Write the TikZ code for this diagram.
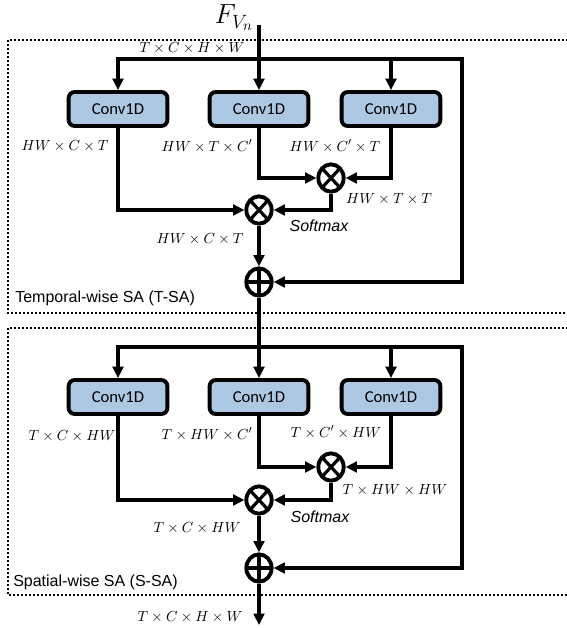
\documentclass[tikz,border=0pt]{standalone}
\usepackage{fontspec}
\setmainfont{Liberation Sans}
\newfontfamily\calib{Carlito}
\usetikzlibrary{arrows.meta,shapes.geometric}
\definecolor{boxblue}{RGB}{173,200,226}
\begin{document}
\begin{tikzpicture}[x=0.75pt,y=-0.75pt,
  wire/.style={line width=2.9pt},
  arr/.style={wire,-{Triangle[length=8.5pt,width=8pt]}},
  conv/.style={draw,line width=2.9pt,rounded corners=4.5pt,fill=boxblue,minimum width=74pt,minimum height=25.5pt,inner sep=0pt,font=\calib\fontsize{12.5}{14}\selectfont},
  op/.style={ellipse,draw,line width=2.9pt,minimum width=19pt,minimum height=20.5pt,inner sep=0pt},
  opx/.style={op,path picture={\draw[line width=2.4pt] (path picture bounding box.north west)--(path picture bounding box.south east) (path picture bounding box.north east)--(path picture bounding box.south west);}},
  opp/.style={op,path picture={\draw[line width=2.4pt] (path picture bounding box.north)--(path picture bounding box.south) (path picture bounding box.east)--(path picture bounding box.west);}},
  dim/.style={font=\fontsize{11}{13}\selectfont,inner sep=0pt},
  sm/.style={font=\itshape\fontsize{12}{14}\selectfont,inner sep=0pt},
  sect/.style={line width=1.6pt,dash pattern=on 1.5pt off 1.5pt},
  lab/.style={font=\fontsize{12}{14}\selectfont,inner sep=0pt,anchor=west},
]
\useasboundingbox (0,0) rectangle (567,628);
% section frames
\draw[sect] (580,40) -- (8,40) -- (8,313) -- (580,313);
\draw[sect] (580,328) -- (8,328) -- (8,595) -- (580,595);

% ---------- block 1 ----------
\node[font=\fontsize{21}{23}\selectfont,inner sep=0pt] (fin) at (234,18) {$F_{V_n}$};
\coordinate (in) at (259,25);
\node[conv] (c1) at (118,109) {Conv1D};
\node[conv] (c2) at (259,109) {Conv1D};
\node[conv] (c3) at (391,109) {Conv1D};
\coordinate (bL) at (118,59);
\coordinate (bM) at (391,59);
\coordinate (bR) at (462,59);
\node[opx] (m1) at (331,178) {};
\node[opx] (m2) at (259,210) {};
\node[opp] (p1) at (259,282) {};

\draw[arr] (in) -- (c2.north);
\draw[arr] (bR) -- (bL) -- (c1.north);
\draw[arr] (bM) -- (c3.north);
\draw[arr] (c2.south) |- (m1.west);
\draw[arr] (c3.south) |- (m1.east);
\draw[arr] (m1.south) |- (m2.east);
\draw[arr] (c1.south) |- (m2.west);
\draw[arr] (m2.south) -- (p1.north);
\draw[arr] ([yshift=1.4pt]bR) |- (p1.east);

\node[dim] (t1) at (192,48) {$T\times C\times H\times W$};
\node[dim] (t2) at (65,146) {$HW\times C\times T$};
\node[dim] (t3) at (207,146) {$HW\times T\times C'$};
\node[dim] (t4) at (335,146) {$HW\times C'\times T$};
\node[dim] (t5) at (389,199) {$HW\times T\times T$};
\node[sm] (s1) at (319,226) {Softmax};
\node[dim] (t6) at (200,239) {$HW\times C\times T$};
\node[lab] (l1) at (15,298) {Temporal-wise SA (T-SA)};

% ---------- block 2 ----------
\node[conv] (c4) at (118,397) {Conv1D};
\node[conv] (c5) at (259,397) {Conv1D};
\node[conv] (c6) at (391,397) {Conv1D};
\coordinate (dL) at (118,347);
\coordinate (dM) at (391,347);
\coordinate (dR) at (462,347);
\node[opx] (m3) at (331,467) {};
\node[opx] (m4) at (259,500) {};
\node[opp] (p2) at (259,568) {};
\coordinate (out) at (259,625);

\draw[arr] (p1.south) -- (c5.north);
\draw[arr] (dR) -- (dL) -- (c4.north);
\draw[arr] (dM) -- (c6.north);
\draw[arr] (c5.south) |- (m3.west);
\draw[arr] (c6.south) |- (m3.east);
\draw[arr] (m3.south) |- (m4.east);
\draw[arr] (c4.south) |- (m4.west);
\draw[arr] (m4.south) -- (p2.north);
\draw[arr] ([yshift=1.4pt]dR) |- (p2.east);
\draw[arr] (p2.south) -- (out);

\node[dim] (u2) at (72,436) {$T\times C\times HW$};
\node[dim] (u3) at (207,434) {$T\times HW\times C'$};
\node[dim] (u4) at (336,432) {$T\times C'\times HW$};
\node[dim] (u5) at (395,490) {$T\times HW\times HW$};
\node[sm] (s2) at (320,517) {Softmax};
\node[dim] (u6) at (197,528) {$T\times C\times HW$};
\node[lab] (l2) at (13,582) {Spatial-wise SA (S-SA)};
\node[dim] (u7) at (190,617) {$T\times C\times H\times W$};
\end{tikzpicture}
\end{document}
